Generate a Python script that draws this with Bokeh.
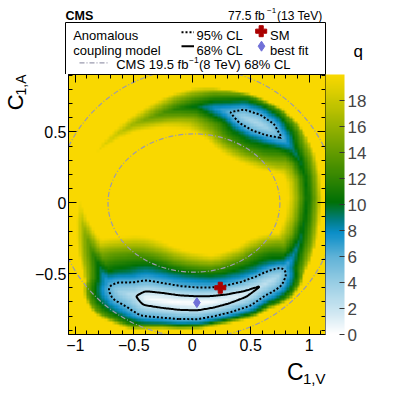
import numpy as np
import contourpy
from bokeh.plotting import figure
from bokeh.models import Range1d, LinearAxis, FixedTicker, LinearColorMapper, ColorBar, Label
from bokeh.layouts import column, row
from bokeh.embed import file_html
from bokeh.resources import INLINE

# ---------------- data ----------------
x_lim = (-1.058, 1.14)
y_lim = (-0.93, 0.905)

# ridge of the likelihood ring: position, minimum q along it, relative width
ridge_x = [0.04, 0.17, 0.30, 0.45, 0.58, 0.64, 0.70, 0.75, 0.785, 0.86, 0.925, 0.965, 0.985, 0.97,
           0.92, 0.85, 0.77, 0.66, 0.55, 0.44, 0.32, 0.19, 0.04, -0.10, -0.22, -0.36, -0.50, -0.63,
           -0.755, -0.83, -0.90, -0.94, -0.955, -0.94, -0.90, -0.85, -0.79, -0.745, -0.70, -0.665,
           -0.62, -0.48, -0.39, -0.25, -0.11]
ridge_y = [-0.71, -0.70, -0.68, -0.645, -0.59, -0.565, -0.54, -0.505, -0.47, -0.38, -0.26, -0.12,
           0.03, 0.18, 0.30, 0.385, 0.455, 0.52, 0.565, 0.605, 0.64, 0.665, 0.68, 0.665, 0.64, 0.60,
           0.555, 0.49, 0.41, 0.33, 0.22, 0.10, 0.0, -0.13, -0.25, -0.36, -0.455, -0.53, -0.595,
           -0.615, -0.63, -0.66, -0.675, -0.69, -0.705]
ridge_q = [0.0, 0.3, 0.7, 1.3, 2.2, 2.45, 2.8, 4.0, 6.0, 8.0, 9.3, 10.0, 10.3, 10.3,
           9.5, 8.5, 6.0, 3.8, 3.0, 3.6, 6.0, 7.5, 9.8, 11.0, 12.5, 14.2, 16.0, 17.5,
           18.7, 19.8, 22.0, 22.0, 19.5, 17.0, 14.5, 12.0, 9.5, 7.5, 6.0, 4.6,
           3.6, 2.3, 0.4, 0.1, 0.05]
ridge_w = [1.0, 0.95, 0.95, 1.0, 1.0, 1.05, 1.05, 1.0, 0.9, 0.8, 0.75, 0.7, 0.7, 0.7,
           0.75, 0.85, 0.95, 1.0, 1.0, 1.0, 0.95, 0.9, 0.85, 0.8, 0.78, 0.75, 0.72, 0.7,
           0.68, 0.65, 0.6, 0.6, 0.6, 0.65, 0.7, 0.75, 0.8, 0.9, 1.1, 1.3,
           1.3, 1.35, 1.2, 1.1, 1.05]
ring_center = (0.03, -0.01)
# rise of q away from the ridge (outer / inner side)
prof_out_d = [0.0, 0.05, 0.112, 0.15, 0.185, 0.30]
prof_out_q = [0.0, 2.3, 6.0, 9.5, 20.0, 60.0]
prof_in_d = [0.0, 0.05, 0.112, 0.17, 0.22, 0.35, 0.50]
prof_in_q = [0.0, 2.3, 6.0, 8.5, 11.0, 20.0, 40.0]

q_max = 20.0
cl_levels = [2.30, 5.99]          # 68% CL, 95% CL

sm_x, sm_y = [0.24], [-0.60]
bf_x, bf_y = [0.04], [-0.705]

# CMS 8 TeV 68% CL region (two ellipses)
run1_cx = [0.034, 0.015]
run1_cy = [0.0, -0.002]
run1_w = [2.40, 1.47]
run1_h = [1.90, 0.976]

x_major = [-1, -0.5, 0, 0.5, 1]
x_minor = [round(-1.0 + 0.1 * i, 2) for i in range(22)]
y_major = [-0.5, 0, 0.5]
y_minor = [round(-0.9 + 0.1 * i, 2) for i in range(19)]
x_labels = {-1: "\u22121", -0.5: "\u22120.5", 0: "0", 0.5: "0.5", 1: "1"}
y_labels = {-0.5: "\u22120.5", 0: "0", 0.5: "0.5"}
cb_ticks = [0, 2, 4, 6, 8, 10, 12, 14, 16, 18]

# ---------------- build the likelihood surface ----------------
AX = 118.3 / 141.4


def resample(n=450):
    px = np.array(ridge_x + ridge_x[:1]); py = np.array(ridge_y + ridge_y[:1])
    pq = np.array(ridge_q + ridge_q[:1]); pw = np.array(ridge_w + ridge_w[:1])
    seg = np.hypot(np.diff(px) * AX, np.diff(py))
    s = np.concatenate([[0], np.cumsum(seg)])
    t = np.linspace(0, s[-1], n, endpoint=False)
    return np.interp(t, s, px), np.interp(t, s, py), np.interp(t, s, pq), np.interp(t, s, pw)


RX, RY, RQ, RW = resample()
NX = (ring_center[0] - RX) * AX
NY = ring_center[1] - RY


def surface(gx, gy):
    fx = gx.ravel(); fy = gy.ravel()
    out = np.empty(fx.size)
    for i in range(0, fx.size, 2000):
        ax_ = fx[i:i + 2000]; ay_ = fy[i:i + 2000]
        dx = (ax_[:, None] - RX[None, :]) * AX
        dy = ay_[:, None] - RY[None, :]
        d = np.hypot(dx, dy) / RW[None, :]
        inner = (dx * NX[None, :] + dy * NY[None, :]) > 0
        dq = np.where(inner, np.interp(d, prof_in_d, prof_in_q), np.interp(d, prof_out_d, prof_out_q))
        out[i:i + 2000] = (RQ[None, :] + dq).min(axis=1)
    return np.minimum(out, q_max).reshape(gx.shape)


nb = 100
cx = x_lim[0] + (np.arange(nb) + 0.5) * (x_lim[1] - x_lim[0]) / nb
cy = y_lim[0] + (np.arange(nb) + 0.5) * (y_lim[1] - y_lim[0]) / nb
GX, GY = np.meshgrid(cx, cy)
Q = surface(GX, GY)

nf = 220
fx = np.linspace(x_lim[0], x_lim[1], nf)
fy = np.linspace(y_lim[0], y_lim[1], nf)
FX, FY = np.meshgrid(fx, fy)
QF = surface(FX, FY)
cgen = contourpy.contour_generator(fx, fy, QF)

# ---------------- palette ----------------
stops_v = [0, 1.5, 4, 6, 7.8, 8.8, 10.2, 13, 16, 18.5, 20]
stops_c = [(255, 255, 255), (212, 234, 243), (150, 205, 228), (95, 178, 215), (10, 142, 200),
           (0, 125, 130), (0, 112, 5), (75, 145, 0), (150, 178, 0), (215, 205, 0), (249, 216, 0)]
vals = np.linspace(0, 20, 256)
palette = []
for v in vals:
    r = int(round(np.interp(v, stops_v, [c[0] for c in stops_c])))
    g = int(round(np.interp(v, stops_v, [c[1] for c in stops_c])))
    b = int(round(np.interp(v, stops_v, [c[2] for c in stops_c])))
    palette.append("#%02x%02x%02x" % (r, g, b))
mapper = LinearColorMapper(palette=palette, low=0, high=q_max)

FONT = "Liberation Sans"
DESC = 0.212                            # font descent / size
W = 400
FL, FR, FT, FB = 65, 325, 74, 334      # page pixels of the main frame
LW = 31                                 # width of the left title strip
MB = 23                                 # bottom border of the main figure
BOT0 = FB + MB                          # top of the bottom title strip
BOT1 = 388


def aux_fig(w, h, xr, yr):
    f = figure(width=w, height=h, x_range=Range1d(*xr), y_range=Range1d(*yr),
               x_axis_location=None, y_axis_location=None, min_border=0,
               output_backend="svg", toolbar_location=None)
    f.grid.visible = False
    f.outline_line_color = None
    return f


def lab(fig, x, y, text, size, baseline="alphabetic", **kw):
    fig.add_layout(Label(x=x, y=y, text=text, text_font=FONT, text_font_size=size,
                         text_color="black", text_baseline=baseline, **kw))


# ---------------- top strip: header + legend box ----------------
top = aux_fig(W, FT, (0, W), (FT, 0))
top.quad(left=[FL], right=[FR], top=[22], bottom=[FT], fill_color=None, line_color="black", line_width=1)
lab(top, 65, 15, "CMS", "12.5px", text_font_style="bold")
lab(top, 227.5, 15, "77.5 fb", "12px")
lab(top, 266.5, 10, "\u22121", "8px")
lab(top, 276.5, 15, "(13 TeV)", "12px")
lab(top, 72.7, 35, "Anomalous", "13px")
lab(top, 72.7, 50, "coupling model", "13px")
lab(top, 196, 35, "95% CL", "13px")
lab(top, 196, 50, "68% CL", "13px")
lab(top, 269.5, 35, "SM", "13px")
lab(top, 269.5, 50, "best fit", "13px")
lab(top, 115.7, 64.3, "CMS 19.5 fb", "13px")
lab(top, 188.5, 59, "\u22121", "8.5px")
lab(top, 198.5, 64.3, "(8 TeV) 68% CL", "13px")
lab(top, 353, 51, "q", "17px")
top.line([181, 193.5], [31.7, 31.7], line_color="black", line_width=2, line_dash="2 2")
top.line([181, 193.5], [45.7, 45.7], line_color="black", line_width=2)
top.line([79, 108], [62.3, 62.3], line_color="#9a9aae", line_width=1.2, line_dash="5 2 1 2")
top.scatter([260.7], [30.7], marker="plus", size=11, fill_color="#aa0000", line_color="#aa0000")
top.scatter([261], [45.7], marker="diamond", size=10, fill_color="#7070d8", line_color="#7070d8")

# ---------------- left strip: y title (rotated, reads upwards) ----------------
left = aux_fig(LW, BOT0 - FT, (0, LW), (BOT0, FT))
lab(left, 23.0 + DESC * 22, 113, "C", "22px", baseline="bottom", angle=np.pi / 2)
lab(left, 26.0 + DESC * 14, 96.8, "1,A", "14px", baseline="bottom", angle=np.pi / 2)

# ---------------- bottom strip: x title ----------------
bottom = aux_fig(W, BOT1 - BOT0, (0, W), (BOT1, BOT0))
lab(bottom, 303, 379.5 + DESC * 23, "C", "23px", baseline="bottom", text_align="right")
lab(bottom, 325, 383.0 + DESC * 15, "1,V", "15px", baseline="bottom", text_align="right")

# ---------------- main figure ----------------
p = figure(width=W - LW, height=BOT0 - FT, x_range=Range1d(*x_lim), y_range=Range1d(*y_lim),
           min_border_left=FL - LW, min_border_right=W - FR, min_border_top=0, min_border_bottom=MB,
           output_backend="svg", toolbar_location=None)
p.grid.visible = False
p.outline_line_color = "black"

p.image(image=[Q], x=x_lim[0], y=y_lim[0], dw=x_lim[1] - x_lim[0], dh=y_lim[1] - y_lim[0],
        color_mapper=mapper)

for lvl, dash in zip(cl_levels, ["solid", "2 2"]):
    segs = cgen.lines(lvl)
    xs = [list(s[:, 0]) for s in segs]
    ys = [list(s[:, 1]) for s in segs]
    p.multi_line(xs, ys, line_color="black", line_width=2, line_dash=dash)

p.ellipse(x=run1_cx, y=run1_cy, width=run1_w, height=run1_h, fill_color=None,
          line_color="#9a9aae", line_width=1.2, line_dash="5 2 1 2")

p.scatter(sm_x, sm_y, marker="plus", size=11, fill_color="#aa0000", line_color="#aa0000")
p.scatter(bf_x, bf_y, marker="diamond", size=10, fill_color="#7070d8", line_color="#7070d8")


def style_axis(ax, major, minor, labels):
    ax.ticker = FixedTicker(ticks=major, minor_ticks=minor)
    ax.major_tick_in = 8
    ax.major_tick_out = 0
    ax.minor_tick_in = 4
    ax.minor_tick_out = 0
    ax.axis_line_color = "black"
    ax.major_tick_line_color = "black"
    ax.minor_tick_line_color = "black"
    if labels is None:
        ax.major_label_text_font_size = "0px"
        ax.major_label_text_color = None
        ax.major_label_standoff = 0
    else:
        ax.major_label_overrides = labels
        ax.major_label_text_font = FONT
        ax.major_label_text_font_size = "16px"
        ax.major_label_text_color = "black"


style_axis(p.xaxis[0], x_major, x_minor, x_labels)
p.xaxis[0].major_label_standoff = 4
style_axis(p.yaxis[0], y_major, y_minor, y_labels)
p.yaxis[0].major_label_standoff = 2

top_ax = LinearAxis()
style_axis(top_ax, x_major, x_minor, None)
p.add_layout(top_ax, "above")
right_ax = LinearAxis()
style_axis(right_ax, y_major, y_minor, None)
p.add_layout(right_ax, "right")

cb = ColorBar(color_mapper=mapper, ticker=FixedTicker(ticks=cb_ticks), width=19, height=FB - FT,
              padding=0, margin=1, major_tick_in=5, major_tick_out=0,
              major_tick_line_color="#333333", minor_tick_line_color=None,
              major_label_text_font=FONT, major_label_text_font_size="17px", label_standoff=3,
              bar_line_color=None, border_line_color=None, background_fill_color=None)
p.add_layout(cb, "right")

layout = column(top, row(left, p, spacing=0), bottom, spacing=0)
open("out.html", "w").write(file_html(layout, INLINE))
